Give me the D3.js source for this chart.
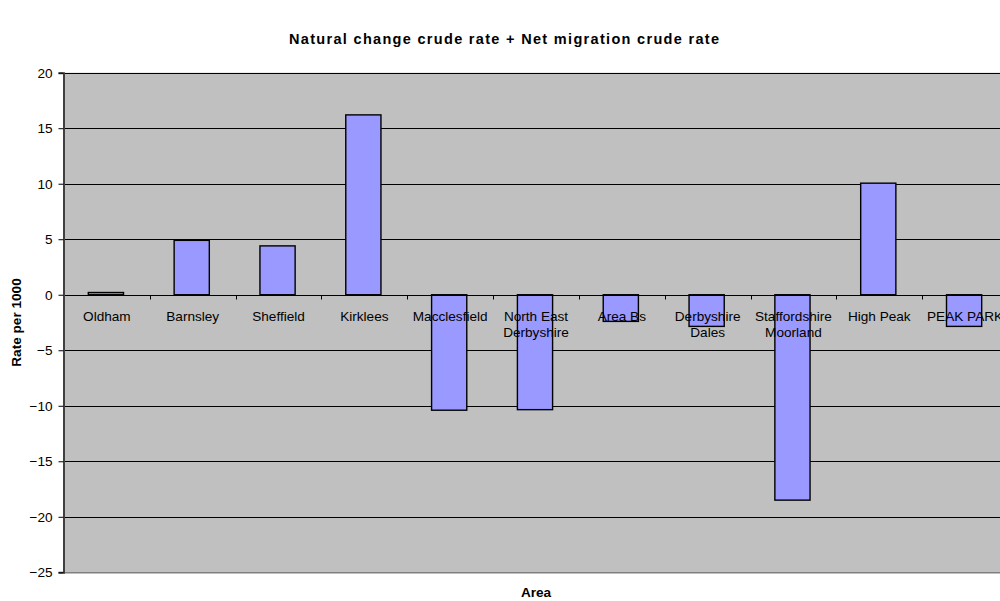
<!DOCTYPE html>
<html>
<head>
<meta charset="utf-8">
<script src="https://cdn.jsdelivr.net/npm/d3@7"></script>
<style>
  html, body { margin: 0; padding: 0; background: #ffffff; }
  svg { display: block; font-family: "Liberation Sans", Arial, sans-serif; }
</style>
</head>
<body>
<svg id="chart" width="1000" height="601"></svg>
<script>
// Areas shown on the category axis (multi-line labels split on "\n")
const areas = [
  "Oldham", "Barnsley", "Sheffield", "Kirklees", "Macclesfield",
  "North East\nDerbyshire", "Area Bs", "Derbyshire\nDales",
  "Staffordshire\nMoorland", "High Peak", "PEAK PARK"
];
// Natural change crude rate + net migration crude rate, per 1000
const rates = [0.2, 4.9, 4.4, 16.2, -10.4, -10.35, -2.4, -2.85, -18.5, 10.05, -2.85];
const yTicks = [20, 15, 10, 5, 0, -5, -10, -15, -20, -25];

const titleText = "Natural change crude rate + Net migration crude rate";
const xTitle = "Area";
const yTitle = "Rate per 1000";

const svg = d3.select("#chart");
const plot = { left: 64, right: 1008, top: 72.7, bottom: 572.3 };

const x = d3.scaleBand().domain(areas).range([plot.left, plot.right]).padding(0);
const y = d3.scaleLinear().domain([-25, 20]).range([plot.bottom, plot.top]);

// plot background
svg.append("rect")
  .attr("x", plot.left).attr("y", plot.top)
  .attr("width", plot.right - plot.left).attr("height", plot.bottom - plot.top)
  .attr("fill", "#c0c0c0");

// bottom border of plot area
svg.append("line")
  .attr("x1", plot.left).attr("x2", plot.right)
  .attr("y1", plot.bottom + 0.5).attr("y2", plot.bottom + 0.5)
  .attr("stroke", "#808080").attr("stroke-width", 1.5);

// horizontal gridlines
svg.append("g").selectAll("line")
  .data(yTicks.filter(d => d !== -25))
  .join("line")
  .attr("x1", plot.left).attr("x2", plot.right)
  .attr("y1", d => Math.round(y(d)) + 0.5).attr("y2", d => Math.round(y(d)) + 0.5)
  .attr("stroke", "#000").attr("stroke-width", 1);

// bars
const barW = x.bandwidth() * 0.41;
svg.append("g").selectAll("rect")
  .data(rates)
  .join("rect")
  .attr("x", (d, i) => x(areas[i]) + (x.bandwidth() - barW) / 2 - 1)
  .attr("y", d => y(Math.max(0, d)))
  .attr("width", barW)
  .attr("height", d => Math.abs(y(d) - y(0)))
  .attr("fill", "#9999ff")
  .attr("stroke", "#000").attr("stroke-width", 1.4);

// zero-line category axis with tick marks between categories
svg.append("g")
  .attr("transform", `translate(0,${Math.round(y(0)) + 0.5})`)
  .call(g => {
    g.append("line").attr("x1", plot.left).attr("x2", plot.right)
      .attr("stroke", "#000");
    g.selectAll("line.tk")
      .data(areas.slice(1))
      .join("line").attr("class", "tk")
      .attr("x1", d => Math.round(x(d)) + 0.5).attr("x2", d => Math.round(x(d)) + 0.5)
      .attr("y1", 0).attr("y2", 4)
      .attr("stroke", "#000");
  });

// category labels, on top of the bars
const labels = svg.append("g")
  .attr("font-size", 13.6).attr("fill", "#000").attr("text-anchor", "middle");
areas.forEach(a => {
  const cx = x(a) + x.bandwidth() / 2;
  const t = labels.append("text").attr("x", cx).attr("y", y(0) + 26);
  a.split("\n").forEach((ln, i) => {
    t.append("tspan").attr("x", cx).attr("dy", i === 0 ? 0 : 16).text(ln);
  });
});

// value axis
const yAxis = d3.axisLeft(y).tickValues(yTicks).tickSize(5).tickPadding(6).tickFormat(d3.format("d"));
svg.append("g")
  .attr("transform", `translate(${plot.left - 0.5},0)`)
  .call(yAxis)
  .call(g => g.select(".domain").attr("stroke", "#404040").attr("stroke-width", 2))
  .call(g => g.selectAll(".tick line").attr("stroke", "#000"))
  .call(g => g.selectAll(".tick text")
    .attr("font-size", 13.6).attr("font-family", "Liberation Sans, Arial, sans-serif").attr("fill", "#000"));

// titles
svg.append("text")
  .attr("x", 504).attr("y", 44)
  .attr("text-anchor", "middle").attr("font-weight", "bold").attr("font-size", 14.5)
  .attr("textLength", 430).attr("lengthAdjust", "spacing")
  .text(titleText);

svg.append("text")
  .attr("x", (plot.left + plot.right) / 2).attr("y", 597)
  .attr("text-anchor", "middle").attr("font-weight", "bold").attr("font-size", 13.6)
  .text(xTitle);

svg.append("text")
  .attr("transform", `translate(21,${(plot.top + plot.bottom) / 2}) rotate(-90)`)
  .attr("text-anchor", "middle").attr("font-weight", "bold").attr("font-size", 13.6)
  .text(yTitle);
</script>
</body>
</html>
